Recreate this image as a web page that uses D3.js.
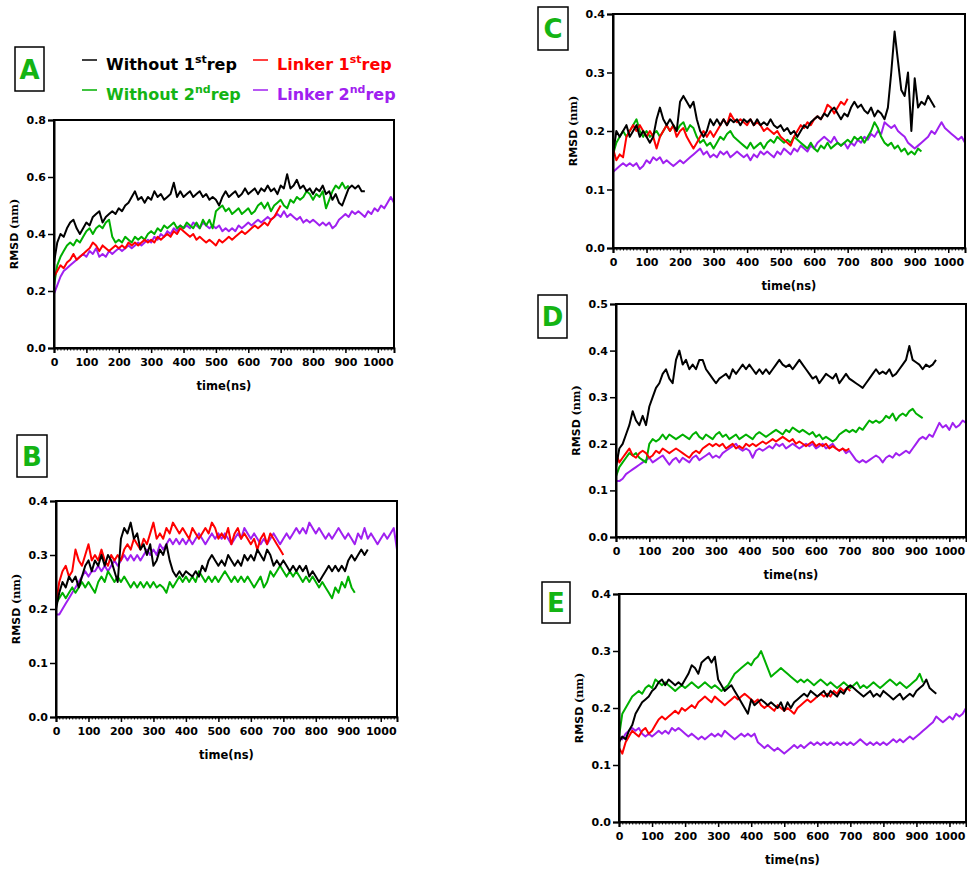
<!DOCTYPE html>
<html>
<head>
<meta charset="utf-8">
<script src="https://cdn.jsdelivr.net/npm/d3@7"></script>
<style>
  body { margin: 0; background: #fff; }
  svg { display: block; }
  text { font-family: "DejaVu Sans", sans-serif; font-weight: bold; }
</style>
</head>
<body>
<svg id="fig" width="967" height="869"></svg>
<script>
// sampling interval of every series (ns)
const STEP = 10;

const colors = { black: "#000000", red: "#ff0000", green: "#00b000", purple: "#a020f0" };
const labelGreen = "#14b414";

const xTicks = d3.range(0, 1001, 100);
const yTicksA = [0, 0.2, 0.4, 0.6, 0.8];
const yTicks04 = [0, 0.1, 0.2, 0.3, 0.4];
const yTicks05 = [0, 0.1, 0.2, 0.3, 0.4, 0.5];

// ---- panel A ----
const aBlack = [.30,.37,.40,.39,.42,.44,.45,.42,.40,.42, .44,.43,.46,.47,.48,.44,.46,.47,.48,.47,
  .49,.48,.50,.51,.53,.55,.52,.53,.51,.53, .52,.55,.53,.54,.52,.53,.54,.58,.53,.55,
  .53,.54,.55,.53,.54,.55,.53,.54,.52,.53, .52,.50,.53,.55,.53,.54,.55,.53,.54,.56,
  .54,.55,.56,.54,.56,.55,.57,.55,.56,.54, .57,.56,.61,.56,.57,.59,.56,.57,.55,.56,
  .54,.56,.55,.57,.54,.55,.52,.54,.51,.50, .53,.56,.57,.56,.57,.55,.55];
const aGreen = [.22,.29,.32,.34,.36,.37,.36,.38,.37,.39, .41,.42,.40,.42,.43,.42,.44,.45,.39,.37,
  .38,.37,.39,.38,.37,.39,.38,.39,.38,.40, .41,.40,.42,.41,.43,.42,.43,.44,.42,.43,
  .42,.44,.43,.42,.44,.42,.45,.43,.45,.42, .48,.49,.50,.48,.49,.47,.48,.49,.47,.48,
  .49,.47,.48,.50,.51,.49,.51,.48,.50,.51, .52,.50,.49,.52,.51,.53,.52,.53,.55,.54,
  .52,.54,.53,.55,.49,.52,.55,.57,.56,.58, .56,.57];
const aRed = [.25,.27,.29,.28,.30,.31,.33,.31,.32,.33, .34,.35,.37,.36,.34,.36,.35,.34,.35,.36,
  .35,.36,.35,.37,.36,.37,.36,.37,.38,.37, .38,.37,.39,.38,.39,.40,.39,.41,.40,.42,
  .41,.40,.39,.40,.38,.39,.38,.37,.38,.37, .36,.38,.37,.38,.39,.38,.39,.40,.41,.40,
  .41,.42,.43,.42,.43,.44,.43,.45,.46,.48, .50];
const aPurple = [.19,.22,.25,.27,.28,.29,.30,.31,.32,.33, .32,.34,.33,.35,.32,.33,.32,.34,.33,.34,
  .35,.34,.35,.36,.35,.36,.37,.36,.37,.38, .37,.39,.38,.40,.39,.41,.40,.42,.41,.43,
  .42,.43,.42,.44,.43,.42,.44,.43,.42,.43, .42,.43,.41,.42,.41,.42,.41,.43,.42,.43,
  .44,.43,.44,.45,.44,.45,.46,.45,.46,.47, .46,.48,.46,.47,.46,.45,.46,.44,.45,.44,
  .45,.44,.43,.44,.43,.44,.42,.43,.45,.46, .47,.46,.48,.47,.48,.47,.46,.48,.47,.49,
  .48,.50,.49,.51,.53,.51];

// ---- panel B ----
const bBlack = [.20,.23,.25,.24,.26,.25,.26,.24,.26,.28, .29,.27,.29,.28,.30,.28,.30,.29,.27,.25,
  .33,.35,.34,.36,.33,.34,.31,.32,.30,.32, .28,.29,.31,.30,.32,.29,.27,.26,.27,.26,
  .27,.265,.26,.27,.26,.28,.27,.29,.30,.29, .28,.29,.28,.30,.29,.28,.29,.28,.30,.29,
  .30,.29,.31,.30,.29,.31,.30,.28,.29,.28, .29,.28,.27,.28,.27,.28,.27,.28,.26,.27,
  .26,.25,.26,.27,.28,.27,.28,.27,.28,.27, .29,.30,.29,.30,.31,.30,.31];
const bGreen = [.21,.22,.23,.22,.23,.24,.23,.24,.25,.24, .25,.24,.23,.25,.26,.25,.27,.26,.25,.26,
  .25,.26,.25,.24,.25,.24,.25,.24,.25,.24, .25,.24,.245,.24,.23,.25,.24,.25,.26,.25,
  .26,.25,.26,.25,.27,.26,.25,.26,.25,.26, .25,.26,.27,.26,.25,.26,.25,.26,.25,.26,
  .25,.24,.25,.26,.24,.25,.27,.26,.27,.28, .27,.26,.27,.26,.27,.26,.25,.26,.25,.26,
  .25,.24,.25,.24,.23,.22,.24,.23,.25,.24, .26,.24,.23];
const bRed = [.21,.25,.27,.28,.26,.27,.31,.29,.28,.30, .32,.29,.30,.29,.31,.29,.28,.30,.29,.30,
  .29,.31,.32,.31,.33,.32,.31,.33,.32,.34, .36,.33,.34,.33,.35,.34,.36,.35,.34,.35,
  .34,.33,.35,.34,.33,.34,.35,.34,.36,.35, .33,.34,.33,.35,.32,.34,.35,.33,.34,.33,
  .32,.33,.31,.33,.34,.32,.34,.33,.32,.31, .30];
const bPurple = [.19,.19,.20,.21,.22,.23,.24,.25,.26,.27, .26,.27,.27,.28,.27,.28,.27,.28,.29,.28,
  .29,.30,.29,.30,.29,.30,.29,.30,.31,.30, .31,.30,.32,.31,.32,.33,.32,.33,.32,.33,
  .32,.33,.32,.33,.34,.33,.32,.33,.34,.33, .34,.33,.34,.33,.32,.33,.34,.33,.35,.34,
  .33,.34,.33,.32,.33,.32,.33,.34,.33,.32, .33,.34,.33,.34,.35,.34,.35,.34,.36,.35,
  .34,.35,.34,.33,.34,.33,.34,.35,.34,.33, .34,.33,.32,.34,.33,.35,.33,.34,.33,.32,
  .33,.34,.33,.34,.35,.31];

// ---- panel C ----
const cBlack = [.16,.20,.19,.20,.21,.19,.20,.21,.19,.20, .19,.18,.19,.22,.24,.22,.21,.22,.21,.20,
  .25,.26,.25,.24,.25,.22,.20,.19,.20,.22, .21,.22,.21,.22,.21,.22,.215,.22,.21,.22,
  .215,.22,.21,.22,.21,.215,.21,.22,.21,.205, .21,.20,.205,.195,.20,.19,.20,.21,.205,.215,
  .22,.225,.22,.23,.225,.235,.24,.23,.22,.23, .225,.24,.25,.24,.245,.235,.23,.24,.225,.235,
  .23,.22,.24,.30,.37,.32,.27,.26,.30,.20, .29,.24,.25,.245,.26,.25,.24];
const cGreen = [.16,.18,.19,.20,.19,.20,.21,.22,.20,.19, .20,.19,.195,.20,.19,.20,.21,.20,.21,.20,
  .21,.215,.20,.21,.205,.19,.18,.185,.175,.18, .17,.18,.19,.185,.195,.20,.19,.185,.18,.175,
  .17,.18,.17,.175,.18,.17,.18,.185,.18,.19, .185,.18,.185,.18,.19,.185,.18,.175,.17,.18,
  .17,.165,.175,.17,.18,.17,.175,.18,.175,.18, .185,.18,.19,.185,.19,.18,.19,.20,.215,.205,
  .19,.18,.175,.18,.17,.175,.165,.17,.16,.165, .16,.17,.165];
const cRed = [.17,.15,.16,.155,.19,.20,.21,.20,.21,.20, .19,.20,.19,.17,.19,.20,.21,.20,.21,.19,
  .20,.205,.19,.18,.17,.18,.19,.20,.19,.20, .19,.20,.21,.22,.21,.23,.22,.215,.22,.215,
  .21,.22,.21,.215,.21,.20,.205,.20,.195,.20, .19,.185,.18,.175,.19,.20,.21,.205,.215,.21,
  .22,.225,.22,.23,.245,.24,.23,.24,.25,.245, .255];
const cPurple = [.13,.135,.14,.145,.14,.145,.14,.145,.135,.14, .15,.145,.155,.15,.155,.145,.15,.145,.14,.145,
  .15,.145,.15,.155,.16,.165,.17,.16,.165,.155, .16,.155,.165,.16,.165,.155,.16,.165,.16,.155,
  .16,.15,.16,.155,.165,.16,.165,.16,.155,.165, .16,.17,.165,.16,.17,.165,.175,.17,.165,.175,
  .17,.18,.185,.19,.185,.18,.19,.18,.175,.18, .17,.18,.175,.185,.18,.19,.185,.195,.19,.20,
  .195,.215,.21,.205,.21,.20,.195,.19,.18,.175, .17,.175,.18,.185,.19,.20,.195,.205,.215,.205,
  .20,.195,.19,.185,.19,.18];

// ---- panel D ----
const dBlack = [.15,.19,.20,.22,.24,.27,.25,.24,.26,.24, .28,.30,.32,.33,.35,.36,.34,.33,.38,.40,
  .37,.38,.36,.37,.36,.38,.38,.36,.35,.34, .33,.34,.345,.35,.34,.36,.35,.36,.37,.36,
  .37,.36,.35,.36,.35,.36,.35,.36,.37,.38, .37,.365,.37,.36,.37,.38,.37,.36,.35,.34,
  .345,.33,.34,.35,.345,.34,.35,.33,.34,.35, .34,.335,.33,.325,.32,.33,.34,.35,.36,.35,
  .355,.35,.36,.345,.35,.36,.37,.38,.41,.38, .375,.37,.36,.37,.365,.37,.38];
const dGreen = [.13,.15,.16,.17,.18,.175,.18,.17,.165,.16, .20,.21,.205,.21,.22,.21,.22,.215,.21,.215,
  .22,.215,.21,.22,.225,.215,.21,.22,.215,.21, .22,.225,.215,.22,.21,.215,.22,.21,.215,.22,
  .215,.21,.22,.225,.22,.215,.22,.225,.23,.225, .22,.23,.225,.235,.23,.225,.23,.225,.22,.225,
  .215,.22,.21,.215,.21,.205,.21,.22,.225,.23, .225,.23,.225,.235,.23,.24,.25,.245,.25,.245,
  .25,.26,.255,.265,.25,.26,.265,.26,.27,.275, .265,.26,.255];
const dRed = [.18,.16,.17,.18,.19,.175,.17,.18,.185,.18, .17,.175,.185,.18,.19,.185,.18,.185,.19,.185,
  .18,.175,.17,.18,.185,.18,.19,.195,.20,.195, .20,.195,.20,.19,.195,.20,.19,.195,.19,.20,
  .195,.20,.195,.20,.205,.20,.205,.21,.205,.21, .215,.21,.205,.21,.20,.205,.20,.195,.20,.205,
  .195,.20,.195,.20,.19,.195,.19,.185,.19,.185, .19];
const dPurple = [.12,.12,.125,.135,.14,.145,.15,.155,.16,.165, .17,.16,.165,.17,.175,.165,.155,.165,.17,.16,
  .17,.165,.16,.17,.175,.165,.17,.175,.18,.17, .175,.17,.18,.185,.19,.195,.20,.19,.185,.19,
  .185,.17,.185,.19,.185,.19,.195,.19,.20,.195, .20,.19,.195,.20,.195,.19,.195,.20,.195,.20,
  .19,.195,.20,.19,.195,.20,.19,.185,.19,.18, .185,.175,.165,.16,.165,.16,.165,.17,.175,.17,
  .16,.17,.175,.17,.18,.175,.18,.185,.18,.19, .20,.21,.215,.21,.22,.215,.23,.245,.235,.24,
  .23,.245,.235,.24,.25,.245];

// ---- panel E ----
const eBlack = [.14,.15,.145,.16,.17,.19,.20,.21,.215,.22, .23,.235,.245,.25,.24,.25,.245,.24,.245,.24,
  .25,.26,.275,.27,.26,.28,.285,.29,.28,.29, .25,.24,.23,.235,.24,.23,.22,.21,.20,.19,
  .215,.205,.21,.215,.21,.205,.21,.205,.20,.21, .195,.21,.20,.21,.215,.22,.225,.22,.23,.225,
  .22,.225,.23,.22,.23,.225,.22,.23,.225,.235, .24,.235,.23,.225,.22,.225,.23,.22,.225,.22,
  .23,.225,.22,.215,.22,.225,.215,.22,.225,.22, .23,.235,.24,.25,.235,.23,.225];
const eGreen = [.15,.19,.20,.21,.22,.225,.23,.225,.235,.24, .235,.25,.245,.24,.245,.24,.235,.23,.235,.24,
  .235,.24,.245,.24,.235,.24,.245,.24,.235,.24, .235,.23,.235,.24,.25,.26,.265,.27,.275,.28,
  .275,.285,.29,.30,.285,.27,.255,.26,.265,.27, .265,.26,.255,.25,.245,.25,.245,.25,.245,.24,
  .245,.25,.245,.24,.245,.24,.235,.24,.245,.24, .235,.24,.245,.235,.24,.235,.24,.245,.24,.235,
  .24,.245,.25,.245,.24,.245,.24,.235,.24,.245, .25,.26,.245];
const eRed = [.13,.12,.14,.15,.16,.155,.15,.16,.165,.155, .16,.17,.18,.185,.18,.185,.19,.195,.19,.20,
  .195,.20,.205,.20,.21,.215,.22,.215,.21,.22, .215,.21,.205,.21,.215,.22,.215,.22,.225,.22,
  .215,.21,.215,.205,.20,.205,.20,.195,.205,.20, .195,.20,.195,.19,.20,.205,.21,.215,.21,.215,
  .22,.225,.22,.225,.22,.23,.225,.235,.23,.235, .23];
const ePurple = [.15,.145,.155,.16,.165,.16,.165,.155,.15,.155, .15,.155,.16,.155,.16,.155,.165,.16,.165,.16,
  .155,.15,.155,.15,.145,.15,.145,.15,.155,.15, .155,.15,.16,.155,.15,.145,.15,.155,.15,.155,
  .15,.155,.14,.135,.13,.135,.13,.125,.13,.125, .12,.125,.13,.135,.13,.135,.13,.135,.14,.135,
  .14,.135,.14,.135,.14,.135,.14,.135,.14,.135, .14,.135,.14,.145,.14,.135,.14,.135,.14,.135,
  .14,.135,.14,.145,.14,.145,.14,.145,.15,.145, .15,.155,.16,.165,.17,.175,.185,.18,.175,.18,
  .185,.18,.19,.185,.19,.20];

// layout of the five panels (pixel boxes of the plotting areas)
const panels = [
  { label: "A", box: [15, 47, 29, 44], left: 54, top: 120, right: 394, bottom: 348, yMax: 0.8, yTicks: yTicksA,
    series: { purple: aPurple, green: aGreen, red: aRed, black: aBlack } },
  { label: "B", box: [17, 435, 30, 42], left: 56, top: 501, right: 397, bottom: 717, yMax: 0.4, yTicks: yTicks04,
    series: { purple: bPurple, green: bGreen, red: bRed, black: bBlack } },
  { label: "C", box: [538, 7, 30, 43], left: 613, top: 14, right: 965, bottom: 248, yMax: 0.4, yTicks: yTicks04,
    series: { purple: cPurple, green: cGreen, red: cRed, black: cBlack } },
  { label: "D", box: [538, 295, 29, 43], left: 616, top: 304, right: 966, bottom: 537, yMax: 0.5, yTicks: yTicks05,
    series: { purple: dPurple, green: dGreen, red: dRed, black: dBlack } },
  { label: "E", box: [542, 582, 28, 41], left: 619, top: 594, right: 966, bottom: 822, yMax: 0.4, yTicks: yTicks04,
    series: { purple: ePurple, green: eGreen, red: eRed, black: eBlack } },
];

const svg = d3.select("#fig");

panels.forEach(p => {
  const w = p.right - p.left, h = p.bottom - p.top;
  const x = d3.scaleLinear().domain([0, 1050]).range([0, w]);
  const y = d3.scaleLinear().domain([0, p.yMax]).range([h, 0]);

  const g = svg.append("g").attr("transform", `translate(${p.left},${p.top})`);

  // data lines
  const line = d3.line().x((d, i) => x(i * STEP)).y(d => y(d));
  Object.entries(p.series).forEach(([key, vals]) => {
    g.append("path")
      .datum(vals)
      .attr("d", line)
      .attr("fill", "none")
      .attr("stroke", colors[key])
      .attr("stroke-width", 2)
      .attr("stroke-linejoin", "round");
  });

  // frame (top/right)
  g.append("rect").attr("width", w).attr("height", h)
    .attr("fill", "none").attr("stroke", "#000").attr("stroke-width", 2);

  // minor ticks on the time axis
  g.append("g")
    .attr("transform", `translate(0,${h})`)
    .call(d3.axisBottom(x).tickValues(d3.range(0, 1051, 10)).tickSize(2.5).tickFormat(""))
    .call(a => a.select(".domain").remove())
    .call(a => a.selectAll("line").attr("stroke-width", 1));

  const xAxis = g.append("g")
    .attr("transform", `translate(0,${h})`)
    .call(d3.axisBottom(x).tickValues(xTicks).tickSize(5).tickPadding(5).tickFormat(d3.format("d")));
  const yAxis = g.append("g")
    .call(d3.axisLeft(y).tickValues(p.yTicks).tickSize(6).tickPadding(2).tickFormat(d3.format(".1f")));

  [xAxis, yAxis].forEach(a => {
    a.select(".domain").attr("stroke-width", 2);
    a.selectAll(".tick line").attr("stroke-width", 1.5);
    a.selectAll("text").attr("font-size", 11).attr("font-family", "DejaVu Sans").attr("font-weight", "bold").attr("fill", "#000");
  });

  // axis titles
  g.append("text")
    .attr("x", w / 2).attr("y", h + 42)
    .attr("text-anchor", "middle")
    .attr("font-size", 11.5)
    .text("time(ns)");

  const yl = g.append("text")
    .attr("transform", `translate(-36,${h / 2}) rotate(-90)`)
    .attr("text-anchor", "middle")
    .attr("font-size", 11);
  yl.append("tspan").text("RMSD ");
  yl.append("tspan").attr("font-family", "DejaVu Serif").attr("font-size", 11).text("(nm)");

  // panel letter
  const [bx, by, bw, bh] = p.box;
  svg.append("rect").attr("x", bx).attr("y", by).attr("width", bw).attr("height", bh)
    .attr("fill", "#fff").attr("stroke", "#000").attr("stroke-width", 1.5);
  svg.append("text")
    .attr("x", bx + bw / 2).attr("y", by + bh / 2 + 9.5)
    .attr("text-anchor", "middle")
    .attr("font-size", 26)
    .attr("fill", labelGreen)
    .text(p.label);
});

// legend above panel A
const legendItems = [
  { key: "black", text: "Without 1", sup: "st", col: 0, row: 0 },
  { key: "red", text: "Linker 1", sup: "st", col: 1, row: 0 },
  { key: "green", text: "Without 2", sup: "nd", col: 0, row: 1 },
  { key: "purple", text: "Linker 2", sup: "nd", col: 1, row: 1 },
];
const legendColX = [82, 253], legendRowY = [60, 90];
legendItems.forEach(d => {
  const lx = legendColX[d.col], ly = legendRowY[d.row];
  const c = d.key === "green" ? labelGreen : colors[d.key];
  svg.append("line").attr("x1", lx).attr("x2", lx + 15).attr("y1", ly).attr("y2", ly)
    .attr("stroke", colors[d.key]).attr("stroke-width", 1.5);
  const t = svg.append("text").attr("x", lx + 24).attr("y", ly + 10).attr("font-size", 16).attr("fill", c);
  t.append("tspan").text(d.text);
  t.append("tspan").attr("font-size", 11).attr("dy", -7).text(d.sup);
  t.append("tspan").attr("dy", 7).text("rep");
});
</script>
</body>
</html>
